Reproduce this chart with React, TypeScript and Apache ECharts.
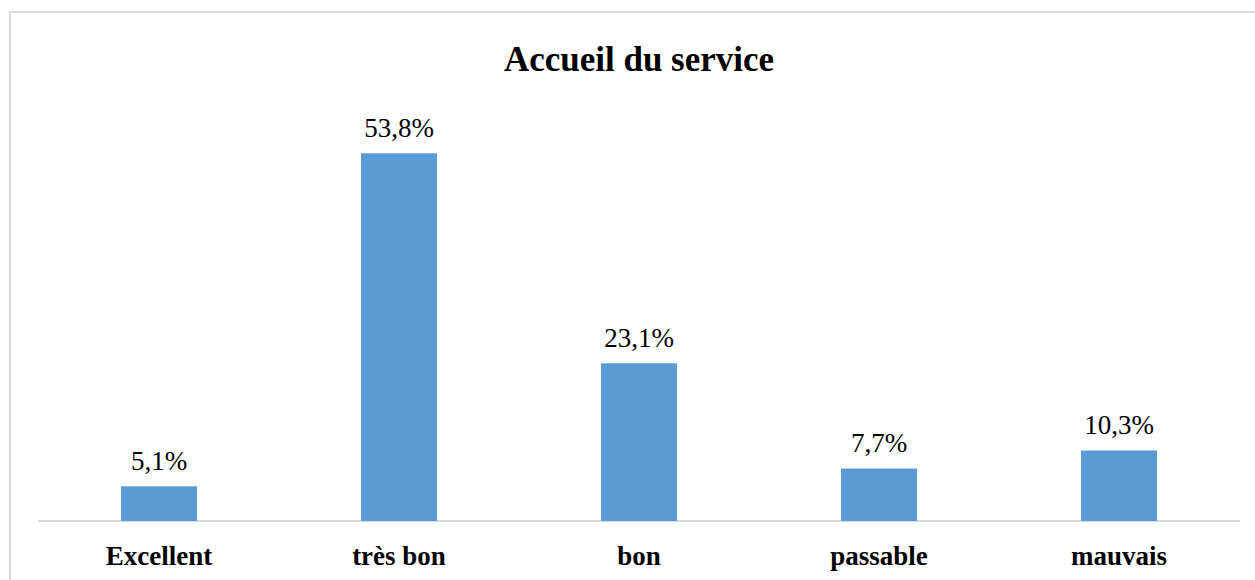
import React, { useEffect, useRef } from "react";
import * as echarts from "echarts";

const categories = ["Excellent", "très bon", "bon", "passable", "mauvais"];
const values = [5.1, 53.8, 23.1, 7.7, 10.3];
const titleText = "Accueil du service";

const FONT = "'Liberation Serif', 'DejaVu Serif', serif";

export default function App() {
  const ref = useRef<HTMLDivElement>(null);
  useEffect(() => {
    if (!ref.current) return;
    const chart = echarts.init(ref.current, undefined, { renderer: "svg" });
    chart.setOption({
      animation: false,
      backgroundColor: "#ffffff",
      title: {
        text: titleText,
        left: 634,
        textAlign: "center",
        top: 37,
        textStyle: { fontFamily: FONT, fontSize: 35, fontWeight: "bold", color: "#000000" },
      },
      graphic: [
        {
          type: "rect",
          shape: { x: 10, y: 12, width: 1300, height: 700 },
          style: { fill: "none", stroke: "#D9D9D9", lineWidth: 2 },
          silent: true,
        },
      ],
      grid: { left: 39, right: 16, top: 111, bottom: 59, containLabel: false },
      xAxis: {
        type: "category",
        data: categories,
        axisLine: { show: true, lineStyle: { color: "#D9D9D9", width: 2 } },
        axisTick: { show: false },
        axisLabel: {
          fontFamily: FONT,
          fontSize: 27,
          fontWeight: "bold",
          color: "#000000",
          margin: 21,
        },
      },
      yAxis: {
        type: "value",
        min: 0,
        max: 60,
        show: false,
        splitLine: { show: false },
      },
      series: [
        {
          type: "bar",
          data: values,
          barWidth: 76,
          itemStyle: { color: "#5B9BD5" },
          label: {
            show: true,
            position: "top",
            distance: 12,
            fontFamily: FONT,
            fontSize: 27,
            color: "#000000",
            formatter: (p: any) => String(p.value).replace(".", ",") + "%",
          },
        },
      ],
    });
    return () => chart.dispose();
  }, []);
  return (
    <div
      ref={ref}
      style={{ position: "absolute", left: 0, top: 0, width: 1255, height: 580 }}
    />
  );
}
